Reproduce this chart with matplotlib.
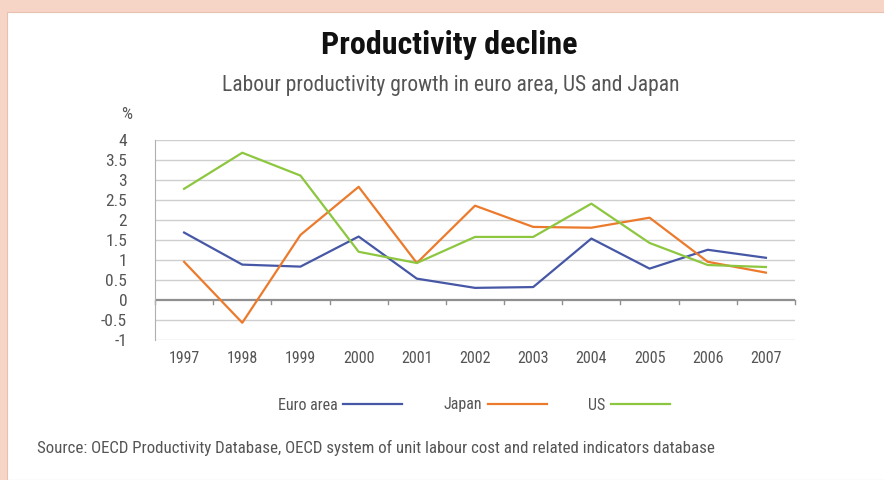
import matplotlib

matplotlib.use("Agg")
import matplotlib.pyplot as plt
from matplotlib.patches import Rectangle

years = ["1997", "1998", "1999", "2000", "2001", "2002", "2003", "2004", "2005", "2006", "2007"]
euro_area = [1.68, 0.88, 0.83, 1.58, 0.53, 0.30, 0.32, 1.53, 0.78, 1.25, 1.05]
japan = [0.95, -0.57, 1.62, 2.82, 0.92, 2.35, 1.82, 1.80, 2.05, 0.95, 0.68]
us = [2.77, 3.67, 3.10, 1.20, 0.92, 1.57, 1.57, 2.40, 1.42, 0.87, 0.82]
y_ticks = [-1, -0.5, 0, 0.5, 1, 1.5, 2, 2.5, 3, 3.5, 4]

FONT = ["Roboto Condensed", "DejaVu Sans"]
TXT = "#555555"

plt.rcParams["font.family"] = FONT

W, H = 884, 480
fig = plt.figure(figsize=(W / 100, H / 100), dpi=100)
fig.patch.set_facecolor("#f7d5c6")
# white panel inside the pink frame
fig.patches.append(Rectangle((7 / W, 0), 1, 1 - 12 / H, transform=fig.transFigure,
                             facecolor="white", edgecolor="#e8c0b0", lw=0.8, zorder=0))

ax = fig.add_axes([155 / W, 1 - 340 / H, 640 / W, 200.5 / H])
ax.set_zorder(2)
ax.set_facecolor("none")
x = list(range(len(years)))

ax.plot(x, euro_area, color="#4657a6", lw=1.6, label="Euro area", zorder=3)
ax.plot(x, japan, color="#ec7a2c", lw=1.6, label="Japan", zorder=3)
ax.plot(x, us, color="#8dc63f", lw=1.6, label="US", zorder=3)

ax.set_xlim(-0.5, len(years) - 0.5)
ax.set_ylim(-1, 4)
ax.set_yticks(y_ticks)
ax.set_yticklabels([f"{t:g}" for t in y_ticks], fontsize=12.5, color=TXT)
ax.tick_params(axis="y", length=0, pad=20)
ax.set_xticks(x)
ax.set_xticklabels(years, fontsize=11.5, color=TXT)
ax.tick_params(axis="x", length=0, pad=8)
for t in y_ticks:
    if t != 0:
        ax.axhline(t, color="#cfcfcf", lw=1, zorder=1)
ax.axhline(0, color="#8f8f8f", lw=1.6, zorder=2)
# category boundary ticks hanging under the zero line
for b in range(len(years) + 1):
    ax.plot([b - 0.5, b - 0.5], [0, -0.1], color="#8f8f8f", lw=1, zorder=2,
            clip_on=False)
for side in ["top", "right", "bottom"]:
    ax.spines[side].set_visible(False)
ax.spines["left"].set_color("#b0b0b0")

ax.text(-0.035, 1.1, "%", transform=ax.transAxes, fontsize=12.5, color=TXT, ha="right")

fig.text(449 / W, 1 - 45 / H, "Productivity decline", ha="center", va="center",
         fontsize=23, fontweight="bold", color="#111111")
fig.text(451 / W, 1 - 86 / H, "Labour productivity growth in euro area, US and Japan",
         ha="center", va="center", fontsize=15.5, color=TXT)

fig.legend(loc="center", bbox_to_anchor=(474 / W, 1 - 405 / H), ncol=3,
           markerfirst=False, frameon=False, fontsize=11.5, handlelength=3.7,
           columnspacing=2.6, handletextpad=0.35, labelcolor=TXT)

fig.text(37 / W, 1 - 448 / H,
         "Source: OECD Productivity Database, OECD system of unit labour cost and related indicators database",
         ha="left", va="center", fontsize=12.2, color=TXT)

fig.savefig("out.png", dpi=100, facecolor=fig.get_facecolor())
